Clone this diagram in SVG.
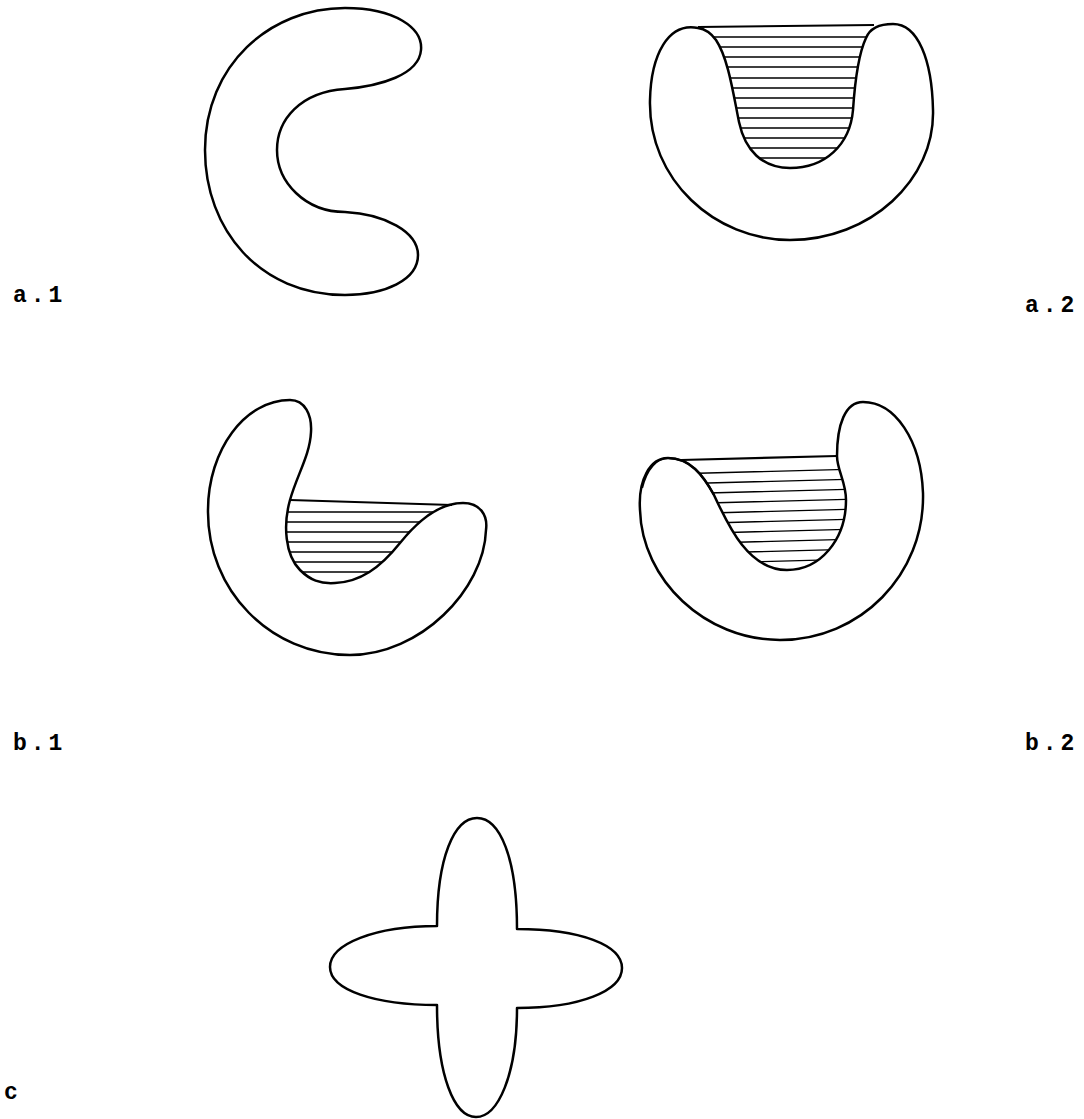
<svg xmlns="http://www.w3.org/2000/svg" width="1084" height="1119" viewBox="0 0 1084 1119">
<style>
.outline{fill:none;stroke:#000;stroke-width:2.5;stroke-linejoin:round}
.edge{fill:none;stroke:#000;stroke-width:2.2}
.hatch{fill:none;stroke:#000;stroke-width:1.4}
.lbl{font-family:"Liberation Mono","DejaVu Sans Mono",monospace;font-size:23px;font-weight:bold;fill:#000;letter-spacing:4px}
</style>
<defs>
<clipPath id="clipA2"><path d="M 698 27 L 872 26 C 868 30, 866 34, 866 38 C 858 55, 855 80, 853 110 C 850 145, 825 168, 790 168 C 762 168, 745 150, 739 122 C 733 92, 728 58, 716 40 C 711 33, 705 29, 698 27 Z"/></clipPath>
<clipPath id="clipB1"><path d="M 290 500 L 463 503 C 440 503, 420 518, 400 543 C 380 568, 360 582, 335 583 C 320 584, 310 580, 300 570 C 285 555, 283 525, 290 500 Z"/></clipPath>
<clipPath id="clipB2"><path d="M 680 459 L 837 456 C 837 470, 846 482, 846 500 C 846 540, 820 570, 787 570 C 748 570, 728 525, 714 495 C 703 475, 695 463, 680 459 Z"/></clipPath>
</defs>

<g id="a1">
<path class="outline" d="M 345 8 C 395 8, 423 28, 421 50 C 419 75, 380 86, 345 89 C 300 92, 277 120, 277 150 C 277 182, 305 212, 345 212 C 385 214, 418 232, 418 255 C 418 280, 385 295, 345 295 C 260 295, 205 230, 205 150 C 205 65, 270 8, 345 8 Z"/>
<text class="lbl" x="13" y="302">a.1</text>
</g>

<g id="a2">
<g clip-path="url(#clipA2)">
<path class="hatch" d="M 680 37 H 900 M 680 47 H 900 M 680 57 H 900 M 680 67 H 900 M 680 78 H 900 M 680 88 H 900 M 680 98 H 900 M 680 108 H 900 M 680 118 H 900 M 680 128 H 900 M 680 138 H 900 M 680 148 H 900 M 680 158 H 900"/>
</g>
<path class="edge" d="M 698 27 L 874 25"/>
<path class="outline" d="M 698 28 C 668 22, 651 55, 650 100 C 648 180, 715 240, 790 240 C 870 240, 935 180, 933 110 C 932 60, 918 24, 893 24 C 880 24, 870 28, 866 38 C 858 55, 855 80, 853 110 C 850 145, 825 168, 790 168 C 762 168, 745 150, 739 122 C 733 92, 728 58, 716 40 C 711 33, 705 29, 698 28 Z"/>
<text class="lbl" x="1025" y="312">a.2</text>
</g>

<g id="b1">
<g clip-path="url(#clipB1)">
<path class="hatch" d="M 270 512 H 480 M 270 522 H 480 M 270 532 H 480 M 270 542 H 480 M 270 552 H 480 M 270 562 H 480 M 270 572 H 480"/>
</g>
<path class="edge" d="M 290 500 L 452 505"/>
<path class="outline" d="M 290 400 C 305 400, 312 415, 311 432 C 310 455, 297 475, 290 500 C 283 525, 285 555, 300 570 C 310 580, 320 584, 335 583 C 360 582, 380 568, 400 543 C 420 518, 440 503, 463 503 C 480 503, 488 515, 486 530 C 484 590, 420 655, 350 655 C 270 655, 207 590, 208 510 C 208 450, 245 400, 290 400 Z"/>
<text class="lbl" x="13" y="750">b.1</text>
</g>

<g id="b2">
<g clip-path="url(#clipB2)">
<path class="hatch" d="M 670 474 L 860 469 M 670 484 L 860 479 M 670 494 L 860 489 M 670 504 L 860 499 M 670 514 L 860 509 M 670 524 L 860 519 M 670 534 L 860 529 M 670 544 L 860 539 M 670 554 L 860 549 M 670 564 L 860 559"/>
</g>
<path class="edge" d="M 681 460 L 837 456"/>
<path class="outline" d="M 668 458 C 690 458, 703 475, 714 495 C 728 525, 748 570, 787 570 C 820 570, 846 540, 846 500 C 846 482, 837 470, 837 456 C 837 425, 845 402, 863 402 C 895 402, 921 440, 923 493 C 925 575, 860 640, 780 640 C 705 640, 642 580, 640 510 C 638 480, 650 458, 668 458 Z"/>
<path class="edge" stroke-width="3.6" d="M 642 488 C 647 468, 657 458, 668 458 C 690 458, 703 475, 714 495"/>
<text class="lbl" x="1025" y="750">b.2</text>
</g>

<g id="c">
<path class="outline" d="M 437 926 C 437 858, 454 818, 477 818 C 500 818, 517 858, 517 929 C 580 929, 622 945, 622 968 C 622 991, 580 1008, 517 1008 C 517 1075, 498 1117, 476 1117 C 454 1117, 437 1075, 437 1005 C 375 1005, 330 990, 330 967 C 330 944, 375 926, 437 926 Z"/>
<text class="lbl" x="4" y="1099">c</text>
</g>
</svg>
